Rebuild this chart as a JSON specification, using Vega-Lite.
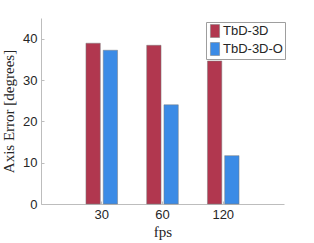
{
  "$schema": "https://vega.github.io/schema/vega-lite/v6.json",
  "autosize": "none",
  "width": 243,
  "height": 186,
  "padding": {"left": 41, "top": 18, "right": 30, "bottom": 39},
  "background": "white",
  "config": {
    "view": {"stroke": null},
    "axis": {
      "domainColor": "#bdbdbd",
      "tickColor": "#bdbdbd",
      "labelFont": "Liberation Sans",
      "labelFontSize": 13,
      "labelColor": "#262626",
      "titleFont": "Liberation Serif",
      "titleFontWeight": "normal",
      "titleFontSize": 15,
      "titleColor": "#262626",
      "grid": false
    }
  },
  "data": {
    "values": [
      {"fps": "30", "method": "TbD-3D", "error": 38.9},
      {"fps": "30", "method": "TbD-3D-O", "error": 37.2},
      {"fps": "60", "method": "TbD-3D", "error": 38.4},
      {"fps": "60", "method": "TbD-3D-O", "error": 24.0},
      {"fps": "120", "method": "TbD-3D", "error": 34.6},
      {"fps": "120", "method": "TbD-3D-O", "error": 11.7}
    ]
  },
  "mark": {"type": "bar", "stroke": "#7a7a7a", "strokeWidth": 0.5},
  "encoding": {
    "x": {
      "field": "fps",
      "type": "nominal",
      "sort": ["30", "60", "120"],
      "scale": {"paddingInner": 0.48, "paddingOuter": 0.74},
      "axis": {
        "title": "fps",
        "labelAngle": 0,
        "tickSize": -3,
        "labelPadding": 7,
        "titlePadding": 3
      }
    },
    "xOffset": {
      "field": "method",
      "type": "nominal",
      "scale": {"paddingInner": 0.17, "paddingOuter": 0}
    },
    "y": {
      "field": "error",
      "type": "quantitative",
      "scale": {"domain": [0, 45], "nice": false},
      "axis": {
        "title": "Axis Error [degrees]",
        "values": [0, 10, 20, 30, 40],
        "tickSize": -3,
        "labelPadding": 7,
        "titlePadding": 6
      }
    },
    "color": {
      "field": "method",
      "type": "nominal",
      "scale": {"domain": ["TbD-3D", "TbD-3D-O"], "range": ["#b1374f", "#3b8be6"]},
      "legend": {
        "title": null,
        "orient": "none",
        "legendX": 165,
        "legendY": 4,
        "fillColor": "white",
        "strokeColor": "#9e9e9e",
        "padding": 2,
        "rowPadding": 2,
        "labelFont": "Liberation Sans",
        "labelFontSize": 13,
        "labelColor": "#262626",
        "labelOffset": 1,
        "symbolType": "M-0.7,-1H0.7V1H-0.7Z",
        "symbolSize": 169,
        "symbolStrokeWidth": 0.5,
        "symbolStrokeColor": "#7a7a7a",
        "symbolOpacity": 1
      }
    }
  }
}
